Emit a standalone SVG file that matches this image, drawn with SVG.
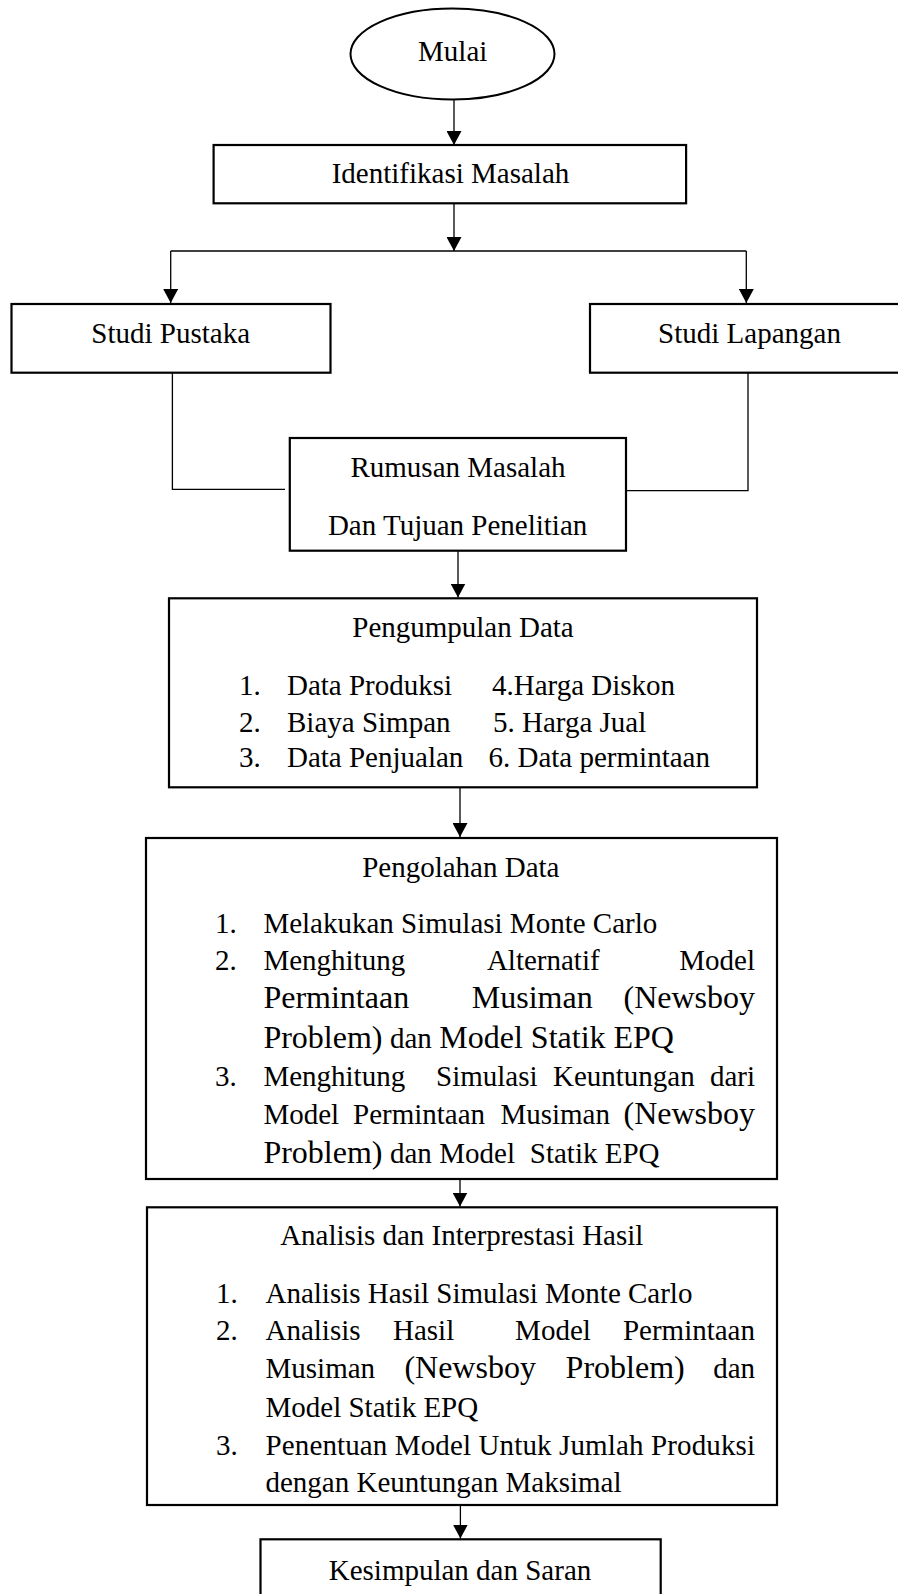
<svg xmlns="http://www.w3.org/2000/svg" width="898" height="1594" viewBox="0 0 898 1594">
<style>
  .box { fill: #fff; stroke: #000; stroke-width: 2.2; }
  .ln { fill: none; stroke: #000; stroke-width: 1.3; }
  text { font-family: "Liberation Serif", "Times New Roman", serif; font-size: 29px; fill: #000; }
  .c { text-anchor: middle; }
  .e { text-anchor: end; }
  .lg { font-size: 32px; }
</style>
<defs>
  <marker id="ah" markerUnits="userSpaceOnUse" markerWidth="15" markerHeight="15" refX="14" refY="7.5" orient="auto">
    <path d="M0,0 L14,7.5 L0,15 z" fill="#000"/>
  </marker>
</defs>
<rect x="0" y="0" width="898" height="1594" fill="#fff"/>

<g id="connectors">
  <line class="ln" x1="454" y1="99.5" x2="454" y2="145" marker-end="url(#ah)"/>
  <line class="ln" x1="454" y1="203" x2="454" y2="251" marker-end="url(#ah)"/>
  <line class="ln" x1="170.7" y1="251" x2="746.3" y2="251"/>
  <line class="ln" x1="170.7" y1="251" x2="170.7" y2="303" marker-end="url(#ah)"/>
  <line class="ln" x1="746.3" y1="251" x2="746.3" y2="303" marker-end="url(#ah)"/>
  <polyline class="ln" points="172.4,372.7 172.4,489.3 285,489.3"/>
  <polyline class="ln" points="748,372.7 748,490.7 627,490.7"/>
  <line class="ln" x1="458" y1="550.7" x2="458" y2="597.5" marker-end="url(#ah)"/>
  <line class="ln" x1="460" y1="787.3" x2="460" y2="837" marker-end="url(#ah)"/>
  <line class="ln" x1="460" y1="1179" x2="460" y2="1206.5" marker-end="url(#ah)"/>
  <line class="ln" x1="460.4" y1="1505" x2="460.4" y2="1538.5" marker-end="url(#ah)"/>
</g>

<g id="mulai">
  <ellipse cx="452.5" cy="54" rx="102" ry="45.5" fill="#fff" stroke="#000" stroke-width="2"/>
  <text class="c" x="452.7" y="61">Mulai</text>
</g>

<g id="identifikasi">
  <rect class="box" x="213.6" y="145" width="472.5" height="58.3"/>
  <text class="c" x="450.5" y="183">Identifikasi Masalah</text>
</g>

<g id="studi-pustaka">
  <rect class="box" x="11.5" y="304" width="319" height="68.7"/>
  <text class="c" x="170.7" y="343">Studi Pustaka</text>
</g>

<g id="studi-lapangan">
  <rect class="box" x="590" y="304" width="312" height="68.7"/>
  <text class="c" x="749.5" y="343">Studi Lapangan</text>
</g>

<g id="rumusan">
  <rect class="box" x="289.8" y="438" width="336.2" height="112.7"/>
  <text class="c" x="458" y="476.7">Rumusan Masalah</text>
  <text class="c" x="457.6" y="535">Dan Tujuan Penelitian</text>
</g>

<g id="pengumpulan">
  <rect class="box" x="169" y="598.3" width="588" height="189"/>
  <text class="c" x="463" y="636.5">Pengumpulan Data</text>
  <text x="239" y="695">1.</text>
  <text x="287" y="695">Data Produksi</text>
  <text x="492" y="695">4.Harga Diskon</text>
  <text x="239" y="731.5">2.</text>
  <text x="287" y="731.5">Biaya Simpan</text>
  <text x="493" y="731.5">5. Harga Jual</text>
  <text x="239" y="766.5">3.</text>
  <text x="287" y="766.5">Data Penjualan</text>
  <text x="488.5" y="766.5">6. Data permintaan</text>
</g>

<g id="pengolahan">
  <rect class="box" x="146" y="838" width="631" height="341"/>
  <text class="c" x="460.8" y="876.5">Pengolahan Data</text>
  <text x="215" y="933.3">1.</text>
  <text x="263.4" y="933.3">Melakukan Simulasi Monte Carlo</text>
  <text x="215" y="969.5">2.</text>
  <text x="263.4" y="969.5">Menghitung</text>
  <text x="486.9" y="969.5">Alternatif</text>
  <text class="e" x="755" y="969.5">Model</text>
  <text class="lg" x="263.4" y="1008.3">Permintaan</text>
  <text class="lg" x="471.8" y="1008.3">Musiman</text>
  <text class="lg e" x="755" y="1008.3">(Newsboy</text>
  <text class="lg" x="263.4" y="1048">Problem)</text>
  <text x="390" y="1048">dan</text>
  <text class="lg" x="439.3" y="1048">Model Statik EPQ</text>
  <text x="215" y="1086">3.</text>
  <text x="263.4" y="1086">Menghitung</text>
  <text x="436" y="1086">Simulasi</text>
  <text x="553" y="1086">Keuntungan</text>
  <text class="e" x="755" y="1086">dari</text>
  <text x="263.4" y="1124">Model</text>
  <text x="353" y="1124">Permintaan</text>
  <text x="500.4" y="1124">Musiman</text>
  <text class="lg e" x="755" y="1124">(Newsboy</text>
  <text class="lg" x="263.4" y="1163">Problem)</text>
  <text x="390" y="1163">dan</text>
  <text x="439.3" y="1163">Model</text>
  <text x="529.8" y="1163">Statik EPQ</text>
</g>

<g id="analisis">
  <rect class="box" x="147" y="1207.3" width="630" height="297.7"/>
  <text class="c" x="461.8" y="1245">Analisis dan Interprestasi Hasil</text>
  <text x="216" y="1303.3">1.</text>
  <text x="265.5" y="1303.3">Analisis Hasil Simulasi Monte Carlo</text>
  <text x="216" y="1340">2.</text>
  <text x="265.5" y="1340">Analisis</text>
  <text x="393" y="1340">Hasil</text>
  <text x="515.1" y="1340">Model</text>
  <text class="e" x="755" y="1340">Permintaan</text>
  <text x="265.5" y="1378.3">Musiman</text>
  <text class="lg" x="404.4" y="1378.3">(Newsboy</text>
  <text class="lg" x="565.6" y="1378.3">Problem)</text>
  <text class="e" x="755" y="1378.3">dan</text>
  <text x="265.5" y="1416.5">Model Statik EPQ</text>
  <text x="216" y="1455">3.</text>
  <text x="265.5" y="1455" textLength="489.5" lengthAdjust="spacing">Penentuan Model Untuk Jumlah Produksi</text>
  <text x="265.5" y="1491.7">dengan Keuntungan Maksimal</text>
</g>

<g id="kesimpulan">
  <rect class="box" x="260.5" y="1539.3" width="400.2" height="80"/>
  <text class="c" x="460" y="1580">Kesimpulan dan Saran</text>
</g>
</svg>
